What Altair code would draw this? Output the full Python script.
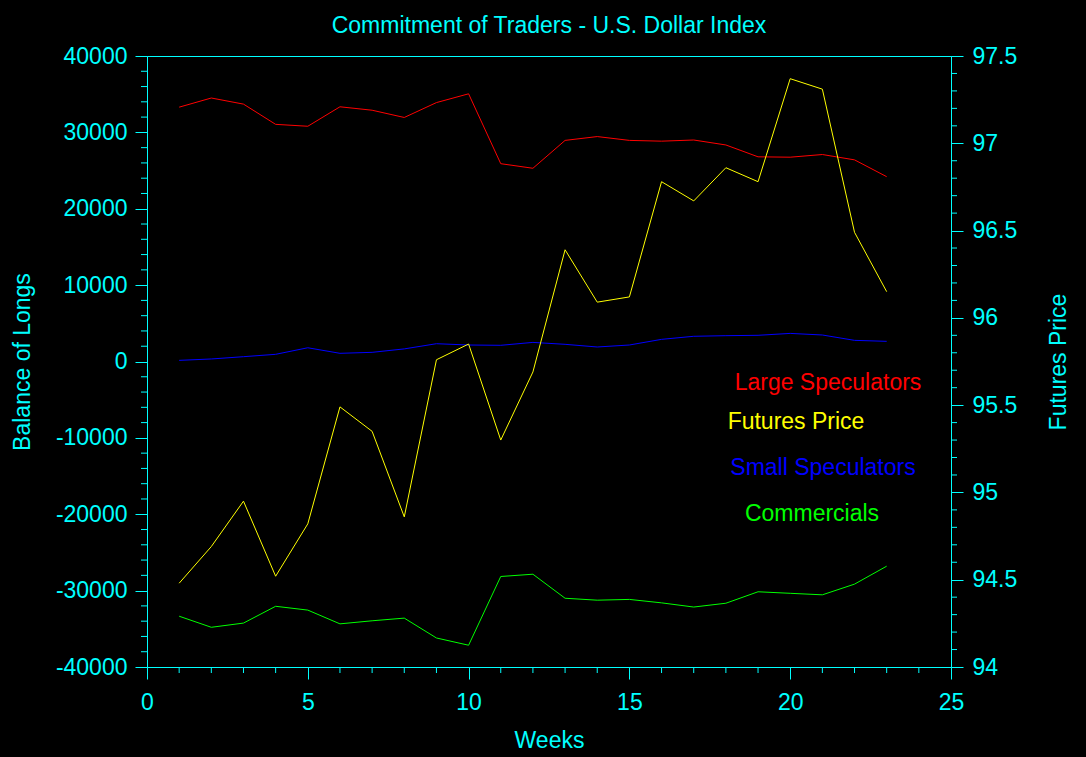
import altair as alt
import pandas as pd

weeks = list(range(1, 24))
large_specs = [33300, 34500, 33700, 31050, 30800, 33350, 32900, 31950, 33900, 35050,
               25900, 25300, 28950, 29450, 28950, 28850, 29000, 28350, 26800, 26750,
               27100, 26400, 24200]
small_specs = [150, 330, 630, 940, 1800, 1070, 1200, 1650, 2330, 2160,
               2120, 2500, 2250, 1900, 2160, 2900, 3300, 3380, 3430, 3680,
               3470, 2770, 2640]
commercials = [-33350, -34800, -34250, -32050, -32550, -34350, -33950, -33600, -36200, -37150,
               -28150, -27850, -31000, -31250, -31150, -31600, -32150, -31650, -30150, -30350,
               -30550, -29150, -26800]
futures = [94.48, 94.69, 94.95, 94.52, 94.82, 95.49, 95.35, 94.86, 95.76, 95.85,
           95.30, 95.69, 96.39, 96.09, 96.12, 96.78, 96.67, 96.86, 96.78, 97.37,
           97.31, 96.49, 96.15]

x_major = [0, 5, 10, 15, 20, 25]
x_minor = [v for v in range(0, 26) if v % 5 != 0]
left_major = list(range(-40000, 40001, 10000))
left_minor = [v for v in range(-40000, 40001, 2000) if v % 10000 != 0]
right_major = [94.0, 94.5, 95.0, 95.5, 96.0, 96.5, 97.0, 97.5]
right_minor = [round(94 + i * 0.1, 1) for i in range(36) if i % 5 != 0]

CYAN = "#00FFFF"
FONT = "Liberation Sans"

df = pd.DataFrame({
    "week": weeks,
    "large": large_specs,
    "small": small_specs,
    "comm": commercials,
    "price": futures,
})

W, H = 804, 611

x_scale = alt.Scale(domain=[0, 25], nice=False)
x_axis = alt.Axis(values=x_major, format="d", title="Weeks", tickSize=12,
                  labelPadding=12, titlePadding=15, grid=False)
y_left_scale = alt.Scale(domain=[-40000, 40000], nice=False)
y_left_axis = alt.Axis(values=left_major, title="Balance of Longs",
                       tickSize=12, labelPadding=8, titlePadding=21, grid=False,
                       orient="left", labelExpr="datum.value + ''")
y_right_scale = alt.Scale(domain=[94, 97.5], nice=False)
y_right_axis = alt.Axis(values=right_major, title="Futures Price", orient="right",
                        tickSize=12, labelPadding=9, titlePadding=54, grid=False,
                        labelExpr="datum.value + ''", titleAngle=270)

base = alt.Chart(df)

def series(field, color):
    return base.mark_line(color=color, strokeWidth=1).encode(
        x=alt.X("week:Q", scale=x_scale, axis=x_axis),
        y=alt.Y(f"{field}:Q", scale=y_left_scale, axis=y_left_axis))

red = series("large", "#FF0000")
blue = series("small", "#0000FF")
green = series("comm", "#00FF00")

left_minor_df = pd.DataFrame({"v": left_minor})
left_ticks = alt.Chart(left_minor_df).mark_rule(color=CYAN, strokeWidth=1).encode(
    y=alt.Y("v:Q", scale=y_left_scale, axis=y_left_axis),
    x=alt.value(-6), x2=alt.value(0))

x_minor_df = pd.DataFrame({"w": x_minor})
bottom_ticks = alt.Chart(x_minor_df).mark_rule(color=CYAN, strokeWidth=1).encode(
    x=alt.X("w:Q", scale=x_scale, axis=x_axis),
    y=alt.value(H), y2=alt.value(H + 6))

yellow = base.mark_line(color="#FFFF00", strokeWidth=1).encode(
    x=alt.X("week:Q", scale=x_scale, axis=x_axis),
    y=alt.Y("price:Q", scale=y_right_scale, axis=y_right_axis))

right_minor_df = pd.DataFrame({"v": right_minor})
right_ticks = alt.Chart(right_minor_df).mark_rule(color=CYAN, strokeWidth=1).encode(
    y=alt.Y("v:Q", scale=y_right_scale, axis=y_right_axis),
    x=alt.value(W), x2=alt.value(W + 6))

def label(text, color, px, py):
    return alt.Chart(pd.DataFrame({"t": [text]})).mark_text(
        color=color, font=FONT, fontSize=23, align="center", baseline="middle"
    ).encode(text="t:N", x=alt.value(px), y=alt.value(py))

labels = alt.layer(
    label("Large Speculators", "#FF0000", 681, 327),
    label("Futures Price", "#FFFF00", 649, 366),
    label("Small Speculators", "#0000FF", 676, 412),
    label("Commercials", "#00FF00", 665, 458),
)

left_group = alt.layer(red, blue, green, left_ticks, bottom_ticks)
right_group = alt.layer(yellow, right_ticks)

chart = alt.layer(left_group, right_group, labels).resolve_scale(y="independent").properties(
    width=W, height=H,
    background="black",
    padding={"left": 147, "top": 56, "right": 135, "bottom": 90},
    autosize=alt.AutoSizeParams(type="none"),
    title=alt.TitleParams("Commitment of Traders - U.S. Dollar Index", color=CYAN,
                          font=FONT, fontSize=23, fontWeight="normal", offset=7,
                          anchor="middle"),
).configure_view(stroke=CYAN, strokeWidth=1).configure_axis(
    domainColor=CYAN, tickColor=CYAN, labelColor=CYAN, titleColor=CYAN,
    labelFont=FONT, titleFont=FONT, labelFontSize=23, titleFontSize=23,
    titleFontWeight="normal", domainWidth=1, tickWidth=1, labelFlush=False,
    labelOverlap=False,
)

chart.save("out.html", embed_options={"renderer": "svg", "actions": False})
